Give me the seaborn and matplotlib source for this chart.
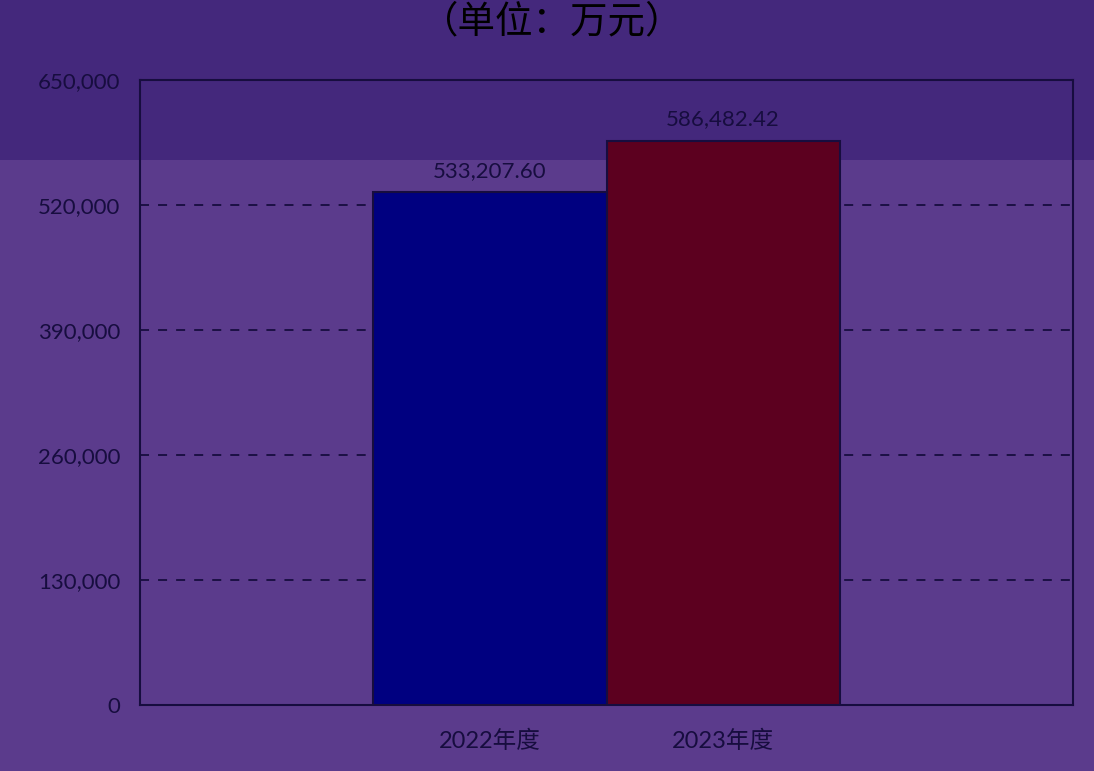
import matplotlib
matplotlib.use('Agg')
import matplotlib.pyplot as plt
import seaborn as sns
import pandas as pd
from matplotlib.patches import Rectangle
from matplotlib.ticker import FuncFormatter

# ==================== Данные ====================
years = ['2022年度', '2023年度']
values = [533207.60, 586482.42]
bar_colors = ['#000080', '#5C001F']
y_ticks = [0, 130000, 260000, 390000, 520000, 650000]

df = pd.DataFrame({'year': years, 'value': values})

sns.set_theme(style='white')
plt.rcParams['font.family'] = ['Lato', 'Noto Sans CJK SC', 'DejaVu Sans']

bg_light = '#5B3B8C'
bg_dark = '#44287C'
ink = '#170D3F'

fig = plt.figure(figsize=(10.94, 7.71), dpi=100, facecolor=bg_light)
# тёмная полоса сверху
fig.patches.append(Rectangle((0, 0.792), 1, 0.208, transform=fig.transFigure,
                             facecolor=bg_dark, edgecolor='none', zorder=-5))

ax = fig.add_axes([140 / 1094, 66 / 771, 933 / 1094, 625 / 771])
ax.set_facecolor('none')
ax.set_zorder(2)

sns.barplot(data=df, x='year', y='value', hue='year', palette=bar_colors,
            saturation=1, width=1.0, edgecolor=ink, linewidth=1.5,
            legend=False, ax=ax, zorder=3)

ax.set_xlim(-1.5, 2.5)
ax.set_ylim(0, 650000)
ax.set_yticks(y_ticks)
ax.yaxis.set_major_formatter(FuncFormatter(lambda v, p: f'{int(v):,}'))
ax.grid(axis='y', linestyle=(0, (5, 5)), color=ink, linewidth=1.3, zorder=1)
ax.set_axisbelow(True)
ax.set_xlabel('')
ax.set_ylabel('')
ax.tick_params(axis='y', colors=ink, labelsize=16, length=0, pad=14)
ax.tick_params(axis='x', colors=ink, labelsize=17, length=0, pad=18)
for lab in ax.get_xticklabels() + ax.get_yticklabels():
    lab.set_color(ink)
for s in ax.spines.values():
    s.set_color(ink)
    s.set_linewidth(1.5)

# подписи значений
for i, v in enumerate(values):
    ax.text(i, v + 12000, f'{v:,.2f}', ha='center', va='bottom',
            fontsize=16, color=ink, zorder=4)

fig.text(0.505, 0.997, '（单位：万元）', ha='center', va='top',
         fontsize=27, color='black', family=['Noto Sans CJK SC'])

fig.savefig('out.png', dpi=100, facecolor=fig.get_facecolor())
